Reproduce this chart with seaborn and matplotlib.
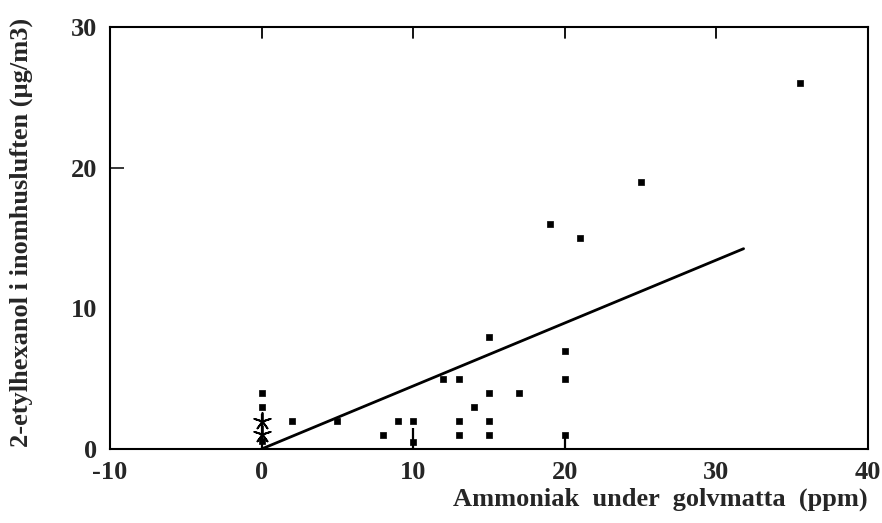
import matplotlib
matplotlib.use("Agg")
import matplotlib.pyplot as plt
import seaborn as sns
import numpy as np
import pandas as pd

# Measured samples: ammonia under the floor mat vs 2-ethylhexanol indoors
ammonia_ppm = [0, 0, 0, 2, 5, 8, 9, 10, 10, 12, 13, 13, 13, 14, 15, 15, 15, 15,
               17, 19, 20, 20, 20, 21, 25, 35.5]
ethylhexanol = [4, 3, 0.6, 2, 2, 1, 2, 2, 0.5, 5, 5, 2, 1, 3, 8, 4, 2, 1,
                4, 16, 7, 5, 1, 15, 19, 26]

# Samples plotted with a star symbol
star_x = [0, 0]
star_y = [2, 1.1]

# Vertical drop lines
drop_x = [0, 10, 20]
drop_top = [2.5, 1.5, 1.0]

# Regression line through the origin
fit_slope = 0.448
fit_x_end = 31.8

x_ticks = [-10, 0, 10, 20, 30, 40]
y_ticks = [0, 10, 20, 30]

sns.set_style("white")
plt.rcParams["font.family"] = ["Liberation Serif", "DejaVu Serif"]
plt.rcParams["font.weight"] = "bold"
plt.rcParams["axes.unicode_minus"] = False

fig = plt.figure(figsize=(8.82, 5.23), dpi=100)
ax = fig.add_axes([0.1247, 0.1415, 0.8593, 0.8065])

df = pd.DataFrame({"x": ammonia_ppm, "y": ethylhexanol})
sns.scatterplot(data=df, x="x", y="y", ax=ax, marker="s", s=22, color="black",
                edgecolor="black", linewidth=0.5, zorder=3)

stars = pd.DataFrame({"x": star_x, "y": star_y})
sns.scatterplot(data=stars, x="x", y="y", ax=ax, marker=(5, 2, 0), s=150,
                color="black", edgecolor="black", linewidth=1.3, zorder=3)

ax.vlines(drop_x, 0, drop_top, color="black", linewidth=1.6, zorder=2)

fit = pd.DataFrame({"x": [0, fit_x_end]})
fit["y"] = fit_slope * fit["x"]
sns.lineplot(data=fit, x="x", y="y", ax=ax, color="black", linewidth=2.0)

ax.set_xlim(-10, 40)
ax.set_ylim(0, 30)
ax.set_xticks(x_ticks)
ax.set_yticks(y_ticks)

for s in ax.spines.values():
    s.set_visible(True)
    s.set_linewidth(1.5)
    s.set_color("black")

ax.tick_params(axis="x", which="both", bottom=False, top=False, direction="in",
               labelsize=19, pad=9)
ax.tick_params(axis="y", which="both", left=True, right=False, direction="in",
               length=10, width=1.3, labelsize=19, pad=9)

# Inner tick marks along the top edge
for xv in x_ticks[1:-1]:
    ax.plot([xv, xv], [30, 30 - 0.75], color="black", linewidth=1.3,
            clip_on=False)
for t in ax.yaxis.get_major_ticks():
    if t.get_loc() in (0, 30):
        t.tick1line.set_visible(False)

for lab in ax.get_xticklabels() + ax.get_yticklabels():
    lab.set_fontweight("bold")

ax.set_xlabel("")
ax.set_ylabel("")
fig.text(0.984, 0.046, "Ammoniak  under  golvmatta  (ppm)", ha="right",
         va="center", fontsize=19, fontweight="bold")
fig.text(0.024, 0.555, "2-etylhexanol i inomhusluften (µg/m3)", rotation=90,
         ha="center", va="center", fontsize=19, fontweight="bold")

fig.savefig("out.png", dpi=100, facecolor="white")
